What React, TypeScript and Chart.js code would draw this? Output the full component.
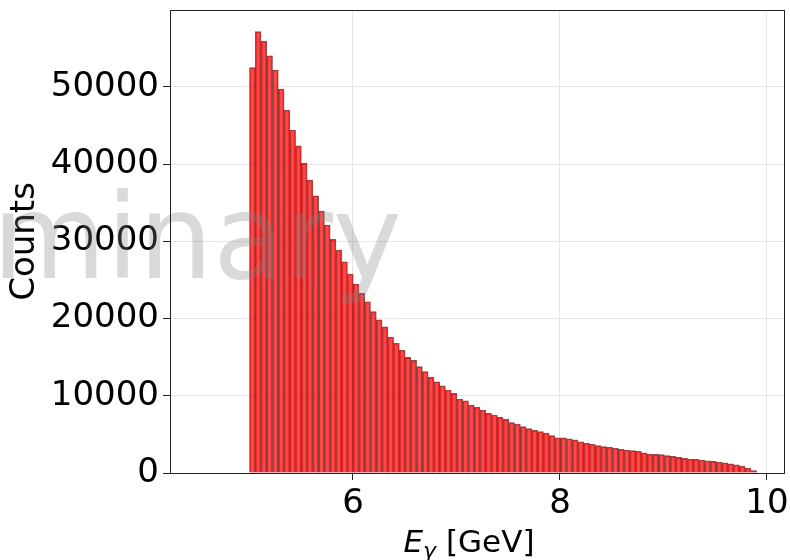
import React, { useEffect, useRef } from 'react';
import { Chart, registerables } from 'chart.js';

Chart.register(...registerables);

// Histogram: 88 bins from 5.0 to 9.9 GeV
const binStart = 5.0;
const binEnd = 9.9;
const counts = [
  52490, 57150, 55940, 54040, 52190, 49730, 47010, 44420, 42370, 40100,
  37940, 35910, 33930, 32120, 30260, 28880, 27360, 25770, 24480, 23270,
  22180, 20890, 19850, 18920, 17600, 16800, 15900, 14980, 14580, 13770,
  13120, 12390, 11820, 11300, 10750, 10320, 9580, 9360, 8810, 8510,
  8160, 7730, 7510, 7210, 6950, 6520, 6350, 6000, 5750, 5520,
  5350, 5180, 4850, 4560, 4550, 4440, 4300, 4050, 3850, 3720,
  3540, 3410, 3330, 3200, 3070, 2980, 2890, 2820, 2600, 2460,
  2420, 2370, 2240, 2160, 2030, 1900, 1810, 1770, 1680, 1590,
  1510, 1420, 1330, 1200, 1070, 910, 650, 300,
];
const xTicks = [6, 8, 10];
const yTicks = [0, 10000, 20000, 30000, 40000, 50000];
const xMin = 4.232;
const xMax = 10.174;
const yMax = 59960;
const yTitle = 'Counts';
const watermark = 'Preliminary';

const FONT = '"DejaVu Sans", sans-serif';

export default function App() {
  const ref = useRef<HTMLCanvasElement>(null);

  useEffect(() => {
    document.body.style.margin = '0';
    const canvas = ref.current;
    if (!canvas) return;
    const w = (binEnd - binStart) / counts.length;
    const data = counts.map((c, i) => ({ x: binStart + (i + 0.5) * w, y: c }));

    const overlay = {
      id: 'overlay',
      afterDatasetsDraw(chart: any) {
        const ctx = chart.ctx;
        const ca = chart.chartArea;
        ctx.save();
        // watermark
        ctx.font = `117px ${FONT}`;
        ctx.fillStyle = 'rgba(128,128,128,0.3)';
        ctx.textAlign = 'right';
        ctx.textBaseline = 'alphabetic';
        ctx.fillText(watermark, 402, 278);
        // frame
        ctx.strokeStyle = '#222';
        ctx.lineWidth = 1;
        ctx.strokeRect(Math.round(ca.left) + 0.5, Math.round(ca.top) + 0.5,
          Math.round(ca.right - ca.left) - 1, Math.round(ca.bottom - ca.top));
        // x title: E_γ [GeV]
        ctx.fillStyle = '#000';
        ctx.textAlign = 'left';
        const fE = `oblique 31px ${FONT}`;
        const fG = `oblique 22px ${FONT}`;
        const fR = `31px ${FONT}`;
        ctx.font = fE; const wE = ctx.measureText('E').width;
        ctx.font = fG; const wG = ctx.measureText('γ').width;
        ctx.font = fR; const wR = ctx.measureText(' [GeV]').width;
        let x = 469 - (wE + wG + wR) / 2;
        const y = 552;
        ctx.font = fE; ctx.fillText('E', x, y); x += wE;
        ctx.font = fG; ctx.fillText('γ', x, y + 6); x += wG;
        ctx.font = fR; ctx.fillText(' [GeV]', x, y);
        ctx.restore();
      },
    };

    const chart = new Chart(canvas, {
      type: 'bar',
      data: {
        datasets: [{
          data,
          backgroundColor: 'rgba(255,0,0,0.72)',
          borderColor: 'rgba(110,0,0,0.7)',
          borderWidth: 1,
          barPercentage: 1,
          categoryPercentage: 1,
        }],
      },
      options: {
        responsive: false,
        animation: false,
        devicePixelRatio: 1,
        layout: { padding: { top: 10, right: 5, left: 0, bottom: 0 } },
        plugins: { legend: { display: false }, tooltip: { enabled: false } },
        scales: {
          x: {
            type: 'linear',
            min: xMin,
            max: xMax,
            offset: false,
            bounds: 'data',
            border: { display: false },
            grid: { offset: false, color: '#e6e6e6', tickColor: '#222', tickLength: 7, drawTicks: true },
            ticks: { font: { family: FONT, size: 34 }, color: '#000', padding: 4, maxRotation: 0, callback: (v: any) => String(v) },
            afterBuildTicks: (s: any) => { s.ticks = xTicks.map((v) => ({ value: v })); },
            afterFit: (s: any) => { s.height = 87; s.paddingLeft = 0; s.paddingRight = 0; },
          },
          y: {
            type: 'linear',
            min: 0,
            max: yMax,
            bounds: 'data',
            border: { display: false },
            grid: { color: '#e6e6e6', tickColor: '#222', tickLength: 7, drawTicks: true },
            ticks: { font: { family: FONT, size: 34 }, color: '#000', padding: 4, callback: (v: any) => String(v) },
            title: { display: true, text: yTitle, font: { family: FONT, size: 34 }, color: '#000', padding: { top: 5, bottom: 0 } },
            afterBuildTicks: (s: any) => { s.ticks = yTicks.map((v) => ({ value: v })); },
            afterFit: (s: any) => { s.width = 170; s.paddingTop = 0; s.paddingBottom = 0; },
          },
        },
      },
      plugins: [overlay],
    } as any);
    return () => chart.destroy();
  }, []);

  return <canvas ref={ref} width={790} height={560} style={{ display: 'block', width: 790, height: 560 }} />;
}
